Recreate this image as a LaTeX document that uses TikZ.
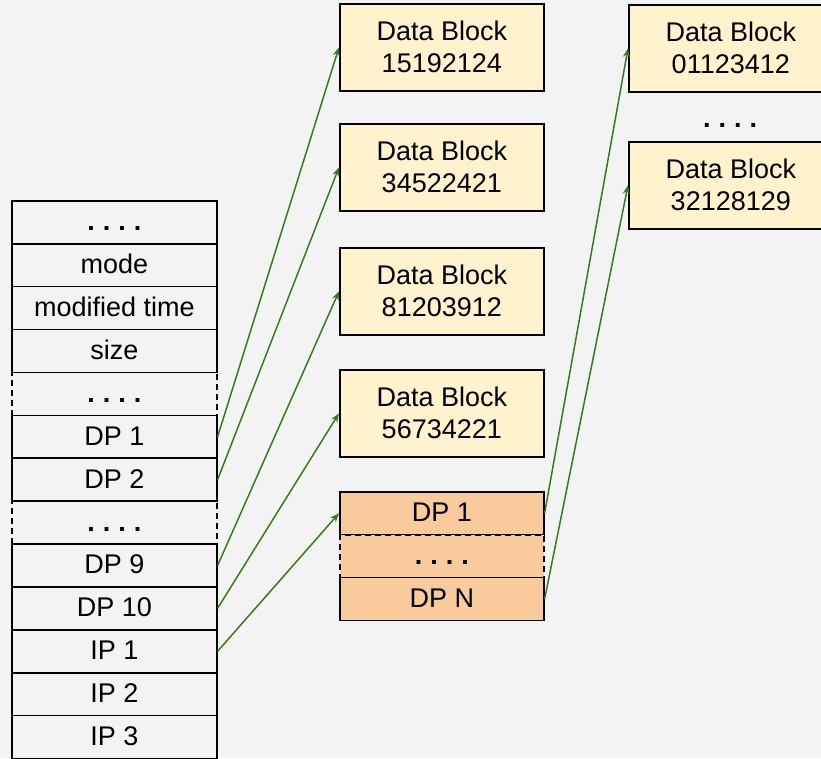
\documentclass[tikz,border=0pt]{standalone}
\usepackage{fontspec}
\setmainfont{Liberation Sans}
\usetikzlibrary{arrows.meta}
\definecolor{bg}{HTML}{F3F3F3}
\definecolor{blk}{HTML}{FFF2CC}
\definecolor{org}{HTML}{F9CB9C}
\definecolor{arr}{HTML}{3A7A1E}
\newcommand\fourdots{\textbf{.\kern8pt.\kern8pt.\kern8pt.}}
\begin{document}
\begin{tikzpicture}[x=1pt,y=-1pt,
 every node/.style={font=\fontsize{27}{32}\selectfont},
 row/.style={draw=black,line width=1.6pt,minimum width=205pt,minimum height=42.9pt,inner sep=0pt,anchor=north west,text height=20pt,text depth=3pt},
 dashrow/.style={row,dash pattern=on 6pt off 4pt},
 orow/.style={row,fill=org,minimum width=204pt},
 odashrow/.style={orow,dash pattern=on 6pt off 4pt},
 block/.style={draw=black,line width=1.6pt,fill=blk,minimum width=204pt,minimum height=87pt,inner sep=0pt,anchor=north west,align=center},
 link/.style={draw=arr,line width=1.5pt,-{Stealth[length=9pt,width=7pt]}}]
\fill[bg] (0,0) rectangle (821,758);
\clip (0,0) rectangle (821,758);
\useasboundingbox (0,0) rectangle (821,758);
% left table
\node[row] (r1) at (11,200) {\fourdots};
\node[row] (r2) at (11,242.9) {mode};
\node[row] (r3) at (11,285.8) {modified time};
\node[row] (r4) at (11,328.7) {size};
\node[dashrow] (r5) at (11,371.6) {\fourdots};
\node[row] (r6) at (11,414.5) {DP 1};
\node[row] (r7) at (11,457.4) {DP 2};
\node[dashrow] (r8) at (11,500.3) {\fourdots};
\node[row] (r9) at (11,543.2) {DP 9};
\node[row] (r10) at (11,586.1) {DP 10};
\node[row] (r11) at (11,629) {IP 1};
\node[row] (r12) at (11,671.9) {IP 2};
\node[row] (r13) at (11,714.8) {IP 3};
% data blocks
\node[block] (b1) at (339,3) {Data Block\\15192124};
\node[block] (b2) at (339,123) {Data Block\\34522421};
\node[block] (b3) at (339,247) {Data Block\\81203912};
\node[block] (b4) at (339,369) {Data Block\\56734221};
% indirect block
\node[orow] (o1) at (339,491) {DP 1};
\node[odashrow] (o2) at (339,533.9) {\fourdots};
\node[orow] (o3) at (339,576.8) {DP N};
% right blocks
\node[block] (c1) at (628,4) {Data Block\\01123412};
\node[anchor=base] (cd) at (730,127) {\fourdots};
\node[block] (c2) at (628,141) {Data Block\\32128129};
% links
\draw[link] (r6.east) -- (b1.west);
\draw[link] (r7.east) -- (b2.west);
\draw[link] (r9.east) -- (b3.west);
\draw[link] (r10.east) -- (b4.west);
\draw[link] (r11.east) -- (o1.west);
\draw[link] (o1.east) -- (c1.west);
\draw[link] (o3.east) -- (c2.west);
\end{tikzpicture}
\end{document}
